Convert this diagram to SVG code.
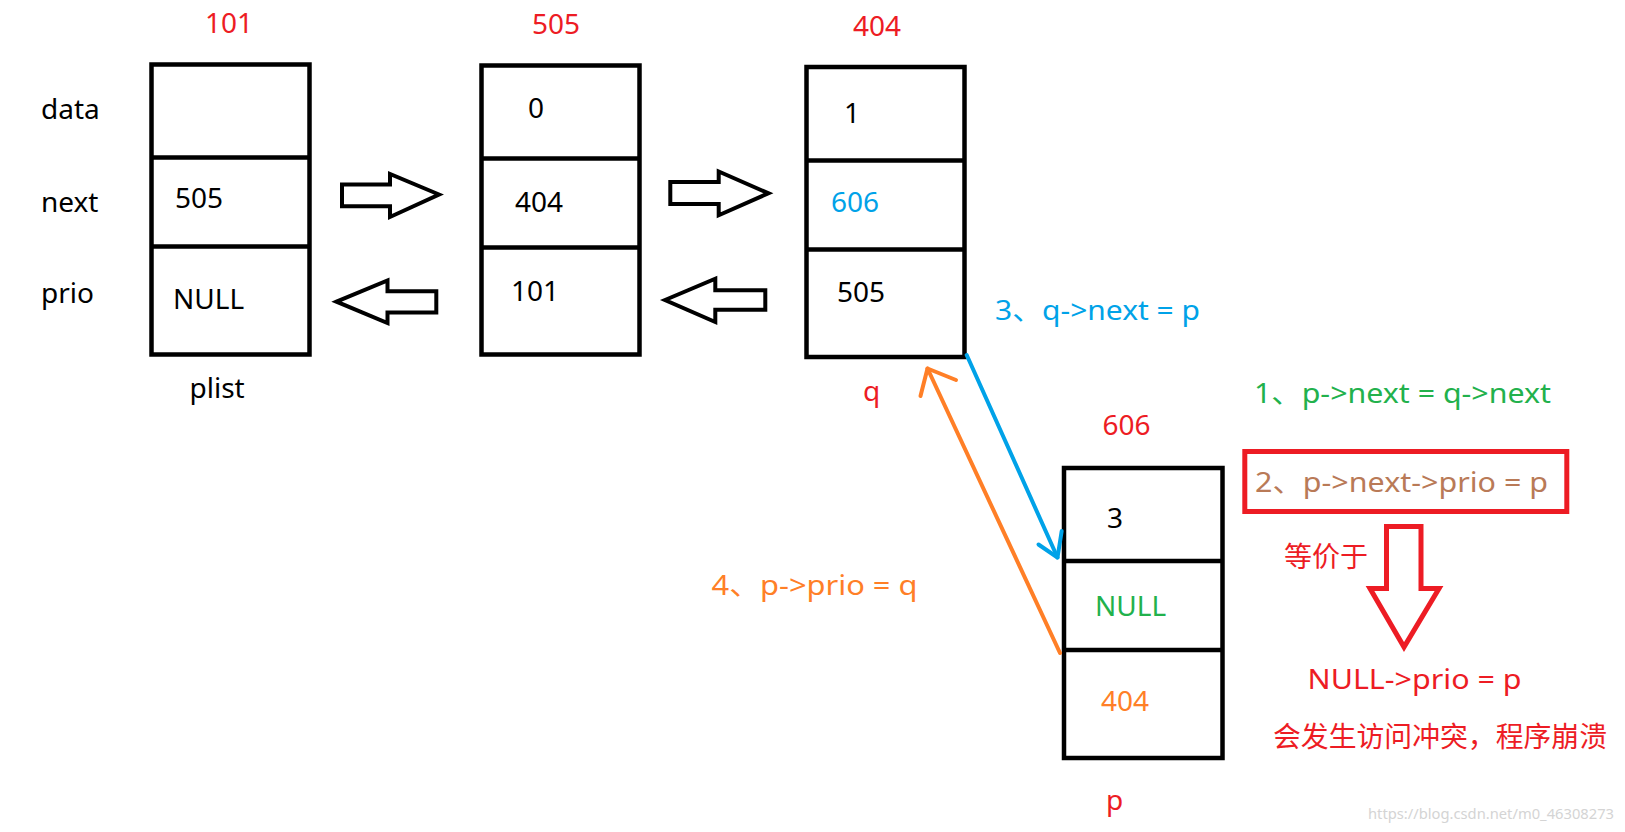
<svg xmlns="http://www.w3.org/2000/svg" width="1625" height="832" viewBox="0 0 1625 832">
<style>
text{font-family:"Noto Sans","Noto Sans CJK SC",sans-serif;font-size:28px;fill:#000}
.red{fill:#ED1C24}
.blue{fill:#00A2E8}
.green{fill:#22B14C}
.orange{fill:#FF7F27}
.brown{fill:#B97A57}
.box{fill:none;stroke:#000;stroke-width:4.5}
.blk{fill:none;stroke:#000;stroke-width:4;stroke-linejoin:miter}
.wm{font-size:14.5px;fill:#d4d4d4}
</style>
<rect width="1625" height="832" fill="#fff"/>
<g id="labels">
<text x="41" y="119">data</text>
<text x="41" y="211.5">next</text>
<text x="41" y="303">prio</text>
</g>
<g id="node101">
<text class="red" x="205" y="33">101</text>
<rect class="box" x="151.5" y="64.5" width="158" height="290"/>
<line class="box" x1="151.5" y1="157.5" x2="309.5" y2="157.5"/>
<line class="box" x1="151.5" y1="246.5" x2="309.5" y2="246.5"/>
<text x="175" y="208">505</text>
<text x="173" y="309">NULL</text>
<text x="189.5" y="398">plist</text>
</g>
<g id="node505">
<text class="red" x="532" y="33.5">505</text>
<rect class="box" x="481.5" y="65.5" width="158" height="289"/>
<line class="box" x1="481.5" y1="158.5" x2="639.5" y2="158.5"/>
<line class="box" x1="481.5" y1="247.5" x2="639.5" y2="247.5"/>
<text x="528" y="118">0</text>
<text x="515" y="211.5">404</text>
<text x="511" y="300.5">101</text>
</g>
<g id="node404">
<text class="red" x="853" y="36">404</text>
<rect class="box" x="806.5" y="67" width="158" height="290"/>
<line class="box" x1="806.5" y1="160.5" x2="964.5" y2="160.5"/>
<line class="box" x1="806.5" y1="249.5" x2="964.5" y2="249.5"/>
<text x="844" y="123">1</text>
<text class="blue" x="831" y="211.5">606</text>
<text x="837" y="301.7">505</text>
<text class="red" x="863" y="401">q</text>
</g>
<g id="node606">
<text class="red" x="1102.5" y="435">606</text>
<rect class="box" x="1064" y="468" width="158.5" height="290"/>
<line class="box" x1="1064" y1="561" x2="1222.5" y2="561"/>
<line class="box" x1="1064" y1="650" x2="1222.5" y2="650"/>
<text x="1107" y="528">3</text>
<text class="green" x="1095" y="616">NULL</text>
<text class="orange" x="1101" y="711">404</text>
<text class="red" x="1106" y="810">p</text>
</g>
<g id="connectors">
<path class="blk" d="M342,184.5 L390,184.5 L390,174 L439,194.5 L390,217 L390,206.3 L342,206.3 Z"/>
<path class="blk" d="M336.5,301.7 L387.5,280.5 L387.5,291.3 L436.3,291.3 L436.3,312.5 L387.5,312.5 L387.5,323 Z"/>
<path class="blk" d="M670.3,182 L718.7,182 L718.7,171.5 L768.5,193.3 L718.7,215.3 L718.7,204 L670.3,204 Z"/>
<path class="blk" d="M665,300 L715.3,278.7 L715.3,290.3 L765.3,290.3 L765.3,309.7 L715.3,309.7 L715.3,322 Z"/>
<g fill="none" stroke="#00A2E8" stroke-width="4" stroke-linecap="round" stroke-linejoin="round">
<path d="M966.7,355 L1057.5,557.5"/>
<path d="M1061.7,531 L1057.5,557.5 L1038.5,544.5"/>
</g>
<g fill="none" stroke="#FF7F27" stroke-width="4" stroke-linecap="round" stroke-linejoin="round">
<path d="M1060,653 L927.5,368.5"/>
<path d="M920.5,396 L927.5,368.5 L956,380"/>
</g>
</g>
<g id="notes">
<text class="blue" x="995" y="320" textLength="205" lengthAdjust="spacingAndGlyphs">3、q-&gt;next = p</text>
<text class="green" x="1254" y="402.7" textLength="297" lengthAdjust="spacingAndGlyphs">1、p-&gt;next = q-&gt;next</text>
<rect x="1244.8" y="451.5" width="322" height="60" fill="none" stroke="#ED1C24" stroke-width="5"/>
<text class="brown" x="1255" y="491.7" textLength="293" lengthAdjust="spacingAndGlyphs">2、p-&gt;next-&gt;prio = p</text>
<text class="red" x="1284" y="567">等价于</text>
<path d="M1386.5,526.5 L1421,526.5 L1421,588.5 L1439,588.5 L1404,647 L1370,588.5 L1386.5,588.5 Z" fill="none" stroke="#ED1C24" stroke-width="5" stroke-linejoin="miter"/>
<text class="orange" x="711.5" y="595" textLength="206" lengthAdjust="spacingAndGlyphs">4、p-&gt;prio = q</text>
<text class="red" x="1307.5" y="689" textLength="214" lengthAdjust="spacingAndGlyphs">NULL-&gt;prio = p</text>
<text class="red" x="1273" y="746.5" textLength="334" lengthAdjust="spacingAndGlyphs">会发生访问冲突，程序崩溃</text>
<text class="wm" x="1368" y="819" textLength="246" lengthAdjust="spacingAndGlyphs">https://blog.csdn.net/m0_46308273</text>
</g>
</svg>
